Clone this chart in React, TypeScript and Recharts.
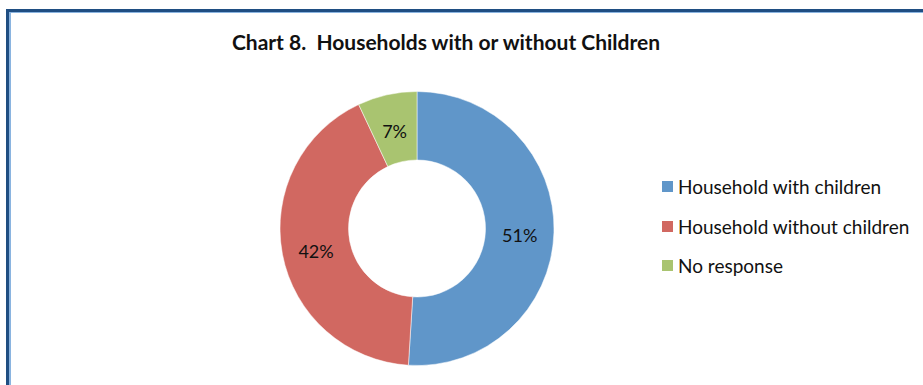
import { PieChart, Pie, Cell } from 'recharts';

const categories = ['Household with children', 'Household without children', 'No response'];
const shares = [51, 42, 7];
const colors = ['#6096C9', '#D16861', '#A9C470'];

const data = categories.map((name, i) => ({ name, value: shares[i] }));

const RADIAN = Math.PI / 180;
const FONT = 'Lato, "Open Sans", sans-serif';

const renderLabel = (props: any) => {
  const { cx, cy, midAngle, innerRadius, outerRadius, value } = props;
  const r = (innerRadius + outerRadius) / 2;
  const x = cx + r * Math.cos(-midAngle * RADIAN);
  const y = cy + r * Math.sin(-midAngle * RADIAN);
  return (
    <text x={x} y={y + 3} fill="#111" fontSize={18} fontFamily={FONT} textAnchor="middle" dominantBaseline="central">
      {`${value}%`}
    </text>
  );
};

export default function App() {
  return (
    <div style={{ position: 'absolute', left: 0, top: 0, width: 923, height: 385, background: '#fff', overflow: 'hidden' }}>
      <div style={{ position: 'absolute', left: 6, top: 9, width: 940, height: 400, borderTop: '3px solid #1F4E82', borderLeft: '3px solid #1F4E82' }} />
      <div style={{ position: 'absolute', left: 9, top: 12, width: 940, height: 400, borderTop: '1px solid #8AB4E0', borderLeft: '2px solid #8AB4E0' }} />
      <div style={{ position: 'absolute', left: 0, top: 29, width: 892, textAlign: 'center', fontFamily: FONT, fontWeight: 'bold', fontSize: 21, color: '#111' }}>
        Chart 8.&nbsp;&nbsp;Households with or without Children
      </div>
      <div style={{ position: 'absolute', left: 0, top: 0 }}>
        <PieChart width={923} height={385} margin={{ top: 0, right: 0, bottom: 0, left: 0 }}>
          <Pie
            data={data}
            dataKey="value"
            nameKey="name"
            cx={417}
            cy={228.5}
            innerRadius={68.5}
            outerRadius={137}
            startAngle={90}
            endAngle={-270}
            label={renderLabel}
            labelLine={false}
            stroke="#fff"
            strokeWidth={0.5}
            isAnimationActive={false}
          >
            {data.map((d, i) => (
              <Cell key={d.name} fill={colors[i]} />
            ))}
          </Pie>
        </PieChart>
      </div>
      <div style={{ position: 'absolute', left: 662, top: 167, fontFamily: FONT, fontSize: 19, color: '#111' }}>
        {data.map((d, i) => (
          <div key={d.name} style={{ display: 'flex', alignItems: 'center', height: 39.5 }}>
            <span style={{ width: 11, height: 11, background: colors[i], marginRight: 5, display: 'inline-block' }} />
            <span>{d.name}</span>
          </div>
        ))}
      </div>
    </div>
  );
}
